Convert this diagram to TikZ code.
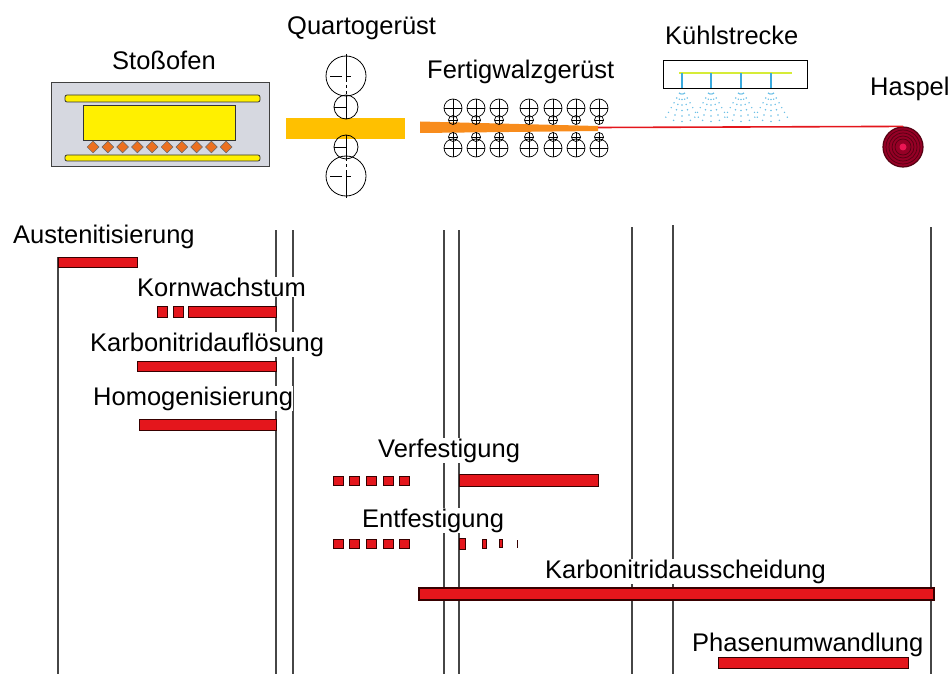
\documentclass[tikz,border=0pt]{standalone}
\usepackage{fontspec}
\setmainfont{Liberation Sans}
\usetikzlibrary{shapes.geometric}
\definecolor{barred}{RGB}{228,22,28}
\definecolor{baredge}{RGB}{55,0,0}
\definecolor{ovengray}{RGB}{214,216,224}
\definecolor{heatyellow}{RGB}{255,240,0}
\definecolor{slaborange}{RGB}{255,192,0}
\definecolor{striporange}{RGB}{248,140,28}
\definecolor{diamondorange}{RGB}{236,112,32}
\definecolor{coilred}{RGB}{150,0,38}
\definecolor{coilring}{RGB}{85,0,18}
\definecolor{coilpink}{RGB}{236,22,84}
\definecolor{waterblue}{RGB}{58,170,222}
\definecolor{headergreen}{RGB}{214,236,56}
\definecolor{gridgray}{RGB}{70,70,70}
\begin{document}
\begin{tikzpicture}[x=1pt,y=-1pt,
  lbl/.style={font=\fontsize{25.5}{30}\selectfont, inner xsep=0pt, inner ysep=1pt, anchor=base west},
  wlbl/.style={lbl, fill=white},
  bar/.style={fill=barred, draw=baredge, line width=1pt},
  timeline/.style={draw=gridgray, line width=1.1pt},
  rollline/.style={draw=black, line width=0.8pt},
  heater/.style={fill=heatyellow, draw=black!80, line width=0.8pt},
]
\useasboundingbox (0,0) rectangle (951,674);

% process stage boundaries
\foreach \x/\t in {58/257, 276/230, 293/230, 444/230, 459/230, 632/227, 673/225, 931/227}
  \draw[timeline] (\x,\t) -- (\x,674);

% ---------- pusher furnace ----------
\node[lbl] (stoss) at (112,70) {Stoßofen};
\draw[fill=ovengray, draw=black!75, line width=1pt] (51,83) rectangle (269,167);
\draw[heater, rounded corners=2] (65,95) rectangle (260,102);
\draw[heater, rounded corners=2] (65,155) rectangle (260,161);
\draw[heater] (83,105) rectangle (235,140);
\foreach \i in {0,...,9}
  \node[diamond, aspect=1, fill=diamondorange, draw=black!60, line width=0.5pt,
        minimum width=12, minimum height=12, inner sep=0] (d\i) at (93+\i*14.8,147) {};

% ---------- four-high stand ----------
\node[lbl] (quarto) at (287,35) {Quartogerüst};
\fill[slaborange] (286,118) rectangle (405,139);
\foreach \y/\s in {76/1, 176/-1} {
  \draw[rollline] (346,\y) circle (20);
  \draw[rollline] (346,\y-22*\s) -- (346,\y+6*\s);
  \draw[rollline, dash pattern=on 3 off 3] (346,\y+9*\s) -- (346,\y+20*\s);
  \draw[rollline, dash pattern=on 12 off 4 on 5 off 100] (330,\y) -- (362,\y);
}
\foreach \y in {107, 147} {
  \draw[rollline] (346,\y) circle (12);
  \draw[rollline] (346,\y-12) -- (346,\y+12);
  \draw[rollline] (334,\y) -- (346,\y);
}

% ---------- finishing train ----------
\node[lbl] (fertig) at (427,79) {Fertigwalzgerüst};
\fill[striporange] (420,121.5) -- (598,126) -- (598,131) -- (420,133) -- cycle;
\foreach \x in {453,476,499,529,553,576,599} {
  \foreach \y/\r in {108/9, 120/4.5, 137/4.5, 148/9} {
    \draw[rollline, line width=0.7pt] (\x,\y) circle (\r);
    \draw[rollline, line width=0.7pt] (\x-\r,\y) -- (\x+\r,\y) (\x,\y-\r) -- (\x,\y+\r);
  }
}

% ---------- cooling section ----------
\node[lbl] (kuehl) at (665,45) {Kühlstrecke};
\draw[line width=1pt, fill=white] (663,61) rectangle (807,89);
\draw[headergreen, line width=2.5pt] (679,73) -- (792,73);
\foreach \x in {682,711,741,771} {
  \draw[waterblue, line width=2.5pt] (\x,73) -- (\x,88);
  % spray fan: dots along rays
  \foreach \a in {-30,-15,0,15,30}
    \foreach \d in {5,10.5,16,21.5,27,32.5}
      \fill[waterblue!75] ({\x+\d*sin(\a)},{89+\d*cos(\a)}) circle (0.85);
}

% ---------- coiler ----------
\node[lbl] (haspel) at (870,96) {Haspel};
\node[circle, fill=coilred, draw=coilring, line width=1.2pt, minimum size=40, inner sep=0] (coil) at (903,147) {};
\foreach \r in {17,14,11,8}
  \draw[coilring, line width=0.7pt] (coil.center) circle (\r);
\fill[coilpink] (coil.center) circle (3.5);
\coordinate (stripend) at (598,127.5);
\draw[barred, line width=1.6pt] (stripend) -- (coil.north);

% ---------- metallurgical processes ----------
\node[lbl] (aust) at (13,243) {Austenitisierung};
\draw[bar] (58,257) rectangle (137,267);

\node[wlbl] (korn) at (137,296) {Kornwachstum};
\draw[bar] (157,306) rectangle (167,317);
\draw[bar] (173,306) rectangle (183,317);
\draw[bar] (188,306) rectangle (276,317);

\node[wlbl] (aufl) at (90,351) {Karbonitridauflösung};
\draw[bar] (137,361) rectangle (276,371);

\node[wlbl] (homog) at (93,405) {Homogenisierung};
\draw[bar] (139,419) rectangle (276,430);

\node[wlbl] (verf) at (378,457) {Verfestigung};
\foreach \x in {333,349,366,383,399}
  \draw[bar] (\x,476) rectangle (\x+10,485);
\draw[bar] (459,474) rectangle (598,486);

\node[wlbl] (entf) at (362,527) {Entfestigung};
\foreach \x in {333,349,366,383,399}
  \draw[bar] (\x,539) rectangle (\x+10,548);
\draw[bar] (459,538) rectangle (465,549);
\draw[bar] (482,539) rectangle (486,548);
\draw[bar] (499,539.5) rectangle (502,547.5);
\draw[baredge, line width=1pt] (517,540) -- (517,548);

\node[wlbl] (aussch) at (545,578) {Karbonitridausscheidung};
\draw[bar, line width=2pt] (419,588) rectangle (934,600);

\node[wlbl] (phase) at (692,651) {Phasenumwandlung};
\draw[bar] (718,657) rectangle (908,668);
\end{tikzpicture}
\end{document}
